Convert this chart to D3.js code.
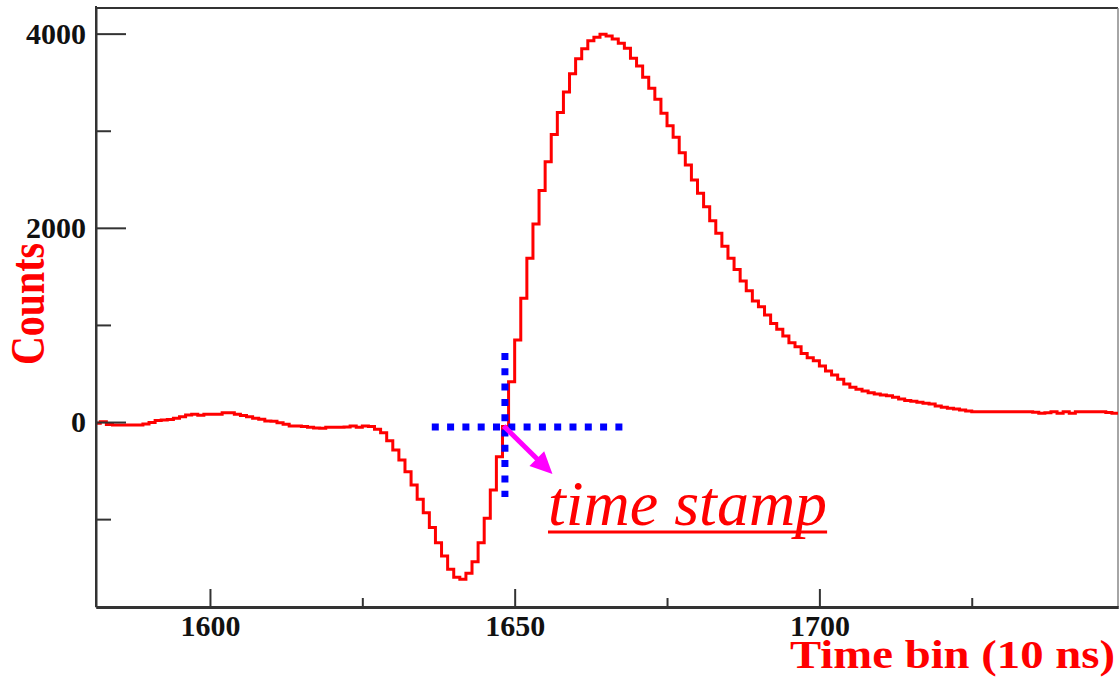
<!DOCTYPE html>
<html lang="en">
<head>
    <meta charset="UTF-8">
    <title>Time bin histogram</title>
    <script src="https://d3js.org/d3.v7.min.js"></script>
    <style>
        body { margin: 0; background: #fff; }
        svg { display: block; }
        .tick text { font-family: "Liberation Serif", "Times New Roman", serif; font-weight: bold; font-size: 30px; fill: #111; }
    </style>
</head>
<body>
    <svg width="1119" height="677"></svg>
    <script>
        // Histogram contents, one value per time bin starting at firstBin
        const firstBin = 1581;
        const counts = [
            -13, 3, -25, -31, -31, -31, -31, -31, -20, -5,
            15, 21, 25, 38, 55, 72, 79, 70, 79, 79,
            79, 96, 96, 80, 68, 55, 40, 28, 10, 8,
            -7, -24, -41, -41, -45, -55, -62, -65, -55, -55,
            -55, -52, -41, -55, -41, -45, -75, -110, -193, -288,
            -391, -512, -649, -796, -934, -1085, -1243, -1380, -1517, -1599,
            -1620, -1558, -1439, -1243, -992, -700, -357, -45, 415, 845,
            1274, 1686, 2040, 2385, 2681, 2960, 3188, 3400, 3588, 3742,
            3845, 3927, 3962, 3993, 3975, 3944, 3900, 3849, 3746, 3666,
            3550, 3437, 3323, 3179, 3052, 2932, 2773, 2647, 2492, 2355,
            2217, 2073, 1943, 1810, 1686, 1572, 1452, 1352, 1246, 1188,
            1102, 1016, 955, 886, 817, 776, 707, 662, 631, 577,
            525, 484, 440, 391, 357, 337, 319, 302, 288, 278,
            271, 254, 237, 223, 213, 203, 193, 185, 165, 151,
            141, 134, 124, 113, 106, 106, 106, 106, 106, 106,
            106, 106, 106, 106, 100, 90, 96, 106, 90, 106,
            90, 106, 106, 106, 106, 106, 98, 90
        ];
        const xMajorTicks = [1600, 1650, 1700];
        const xMinorTicks = [1625, 1675, 1725];
        const yMajorTicks = [0, 2000, 4000];
        const yMinorTicks = [-1000, 1000, 3000];

        // time stamp marker (data coords)
        const stampBin = 1648.4;
        const stampLevel = -52;
        const hLineRange = [1636.4, 1668.0];
        const vLineRange = [-772, 711];
        const arrowFrom = [1648.2, -40];
        const arrowTo = [1656.2, -536];

        const margin = { top: 8, right: 1, bottom: 70, left: 96 };
        const width = 1119 - margin.left - margin.right;
        const height = 677 - margin.top - margin.bottom;

        const svg = d3.select("svg");
        const g = svg.append("g")
            .attr("transform", `translate(${margin.left},${margin.top})`);

        const x = d3.scaleLinear().domain([1581.3, 1749]).range([0, width]);
        const y = d3.scaleLinear().domain([-1905, 4264]).range([height, 0]);

        g.append("clipPath").attr("id", "plot")
            .append("rect").attr("width", width).attr("height", height);

        // frame (top and right)
        g.append("line").attr("x1", 0).attr("x2", width).attr("y1", 0).attr("y2", 0)
            .attr("stroke", "#333").attr("stroke-width", 2);
        g.append("line").attr("x1", width).attr("x2", width).attr("y1", 0).attr("y2", height)
            .attr("stroke", "#888").attr("stroke-width", 1.5);

        // histogram as a step line
        const pts = counts.map((v, i) => [firstBin + i, v]);
        pts.push([firstBin + counts.length, counts[counts.length - 1]]);
        const step = d3.line()
            .x(d => x(d[0]))
            .y(d => y(d[1]))
            .curve(d3.curveStepAfter);
        g.append("path")
            .datum(pts)
            .attr("clip-path", "url(#plot)")
            .attr("fill", "none")
            .attr("stroke", "#ff0000")
            .attr("stroke-width", 3)
            .attr("d", step);

        // axes
        function styleAxis(sel, domainWidth) {
            sel.select(".domain").attr("stroke", "#333").attr("stroke-width", domainWidth);
            sel.selectAll(".tick line").attr("stroke", "#333").attr("stroke-width", 2);
        }

        const xAxis = g.append("g")
            .attr("transform", `translate(0,${height})`)
            .call(d3.axisBottom(x).tickValues(xMajorTicks).tickSizeInner(-18).tickSizeOuter(0)
                .tickPadding(8).tickFormat(d3.format("d")));
        styleAxis(xAxis, 3);
        const xMinor = g.append("g")
            .attr("transform", `translate(0,${height})`)
            .call(d3.axisBottom(x).tickValues(xMinorTicks).tickSizeInner(-9).tickSizeOuter(0).tickFormat(""));
        styleAxis(xMinor, 3);

        const yAxis = g.append("g")
            .call(d3.axisLeft(y).tickValues(yMajorTicks).tickSizeInner(-30).tickSizeOuter(0)
                .tickPadding(10).tickFormat(d3.format("d")));
        styleAxis(yAxis, 2);
        yAxis.select(".domain").attr("d", `M0,${height}V-2`);
        const yMinor = g.append("g")
            .call(d3.axisLeft(y).tickValues(yMinorTicks).tickSizeInner(-15).tickSizeOuter(0).tickFormat(""));
        styleAxis(yMinor, 2);

        // axis titles
        svg.append("text")
            .attr("transform", "translate(44,304) rotate(-90)")
            .attr("text-anchor", "middle")
            .attr("font-family", "Liberation Serif, Times New Roman, serif")
            .attr("font-weight", "bold")
            .attr("font-size", 49)
            .attr("fill", "#ff0000")
            .attr("textLength", 122)
            .attr("lengthAdjust", "spacingAndGlyphs")
            .text("Counts");

        svg.append("text")
            .attr("x", 1115).attr("y", 668)
            .attr("text-anchor", "end")
            .attr("font-family", "Liberation Serif, Times New Roman, serif")
            .attr("font-weight", "bold")
            .attr("font-size", 41)
            .attr("fill", "#ff0000")
            .attr("textLength", 325)
            .attr("lengthAdjust", "spacingAndGlyphs")
            .text("Time bin (10 ns)");

        // time stamp marker: blue dotted cross
        const dots = { stroke: "#0000ff", "stroke-width": 7, "stroke-dasharray": "7 8.3" };
        const hLine = g.append("line")
            .attr("x1", x(hLineRange[0])).attr("x2", x(hLineRange[1]))
            .attr("y1", y(stampLevel)).attr("y2", y(stampLevel));
        const vLine = g.append("line")
            .attr("x1", x(stampBin)).attr("x2", x(stampBin))
            .attr("y1", y(vLineRange[1])).attr("y2", y(vLineRange[0]));
        [hLine, vLine].forEach(l => Object.entries(dots).forEach(([k, v]) => l.attr(k, v)));

        // magenta arrow
        const ax0 = x(arrowFrom[0]), ay0 = y(arrowFrom[1]);
        const ax1 = x(arrowTo[0]), ay1 = y(arrowTo[1]);
        const ang = Math.atan2(ay1 - ay0, ax1 - ax0);
        const headLen = 22, headHalf = 10.5;
        const bx = ax1 - headLen * Math.cos(ang), by = ay1 - headLen * Math.sin(ang);
        g.append("line")
            .attr("x1", ax0).attr("y1", ay0).attr("x2", bx + 2 * Math.cos(ang)).attr("y2", by + 2 * Math.sin(ang))
            .attr("stroke", "#ff00ff").attr("stroke-width", 5);
        g.append("polygon")
            .attr("points", [
                [ax1, ay1],
                [bx - headHalf * Math.sin(ang), by + headHalf * Math.cos(ang)],
                [bx + headHalf * Math.sin(ang), by - headHalf * Math.cos(ang)]
            ].map(p => p.join(",")).join(" "))
            .attr("fill", "#ff00ff");

        // label
        const label = svg.append("text")
            .attr("x", 548).attr("y", 525)
            .attr("font-family", "Liberation Serif, Times New Roman, serif")
            .attr("font-style", "italic")
            .attr("font-size", 64)
            .attr("fill", "#ff0000")
            .text("time stamp");
        const bb = label.node().getBBox();
        svg.append("line")
            .attr("x1", bb.x).attr("x2", bb.x + bb.width)
            .attr("y1", 532).attr("y2", 532)
            .attr("stroke", "#ff0000").attr("stroke-width", 3);
    </script>
</body>
</html>
